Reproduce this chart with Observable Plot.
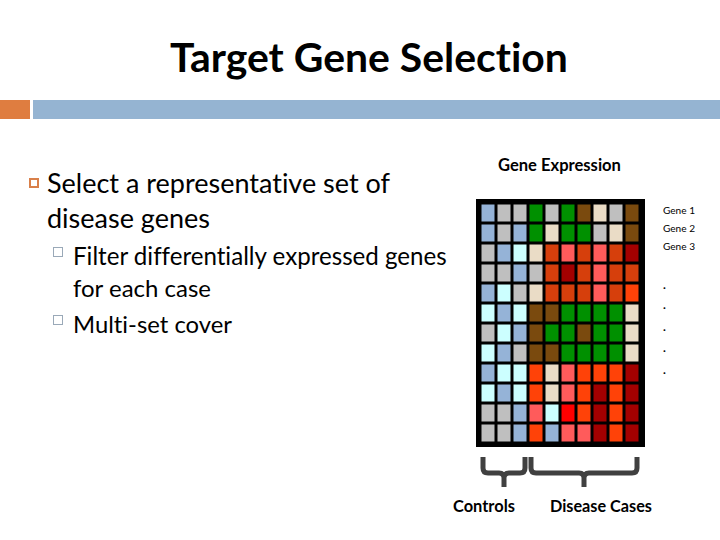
<!DOCTYPE html>
<html><head><meta charset="utf-8">
<script src="https://cdn.jsdelivr.net/npm/d3@7"></script>
<script src="https://cdn.jsdelivr.net/npm/@observablehq/plot@0.6"></script>
<style>
body{margin:0;background:#fff;}
#slide{position:relative;width:720px;height:540px;overflow:hidden;font-family:Lato,"Open Sans",sans-serif;color:#000;font-variant-ligatures:none;font-feature-settings:"liga" 0,"clig" 0;}
#slide svg{position:absolute;left:0;top:0;}
.t{position:absolute;white-space:nowrap;line-height:1;}
.bar{position:absolute;}
</style></head><body><div id="slide"></div>
<script>
// ---- data ----
const genes = ["g1","g2","g3","g4","g5","g6","g7","g8","g9","g10","g11","g12"];
const samples = ["c1","c2","c3","d1","d2","d3","d4","d5","d6","d7"];
// expression level code per gene (row) across samples (columns)
const expression = [
  "BGGgGgNEGN",
  "BGBgEggGEN",
  "GBCERPRPRD",
  "GGBGRDRPRR",
  "BCGERRRPRO",
  "CBCNNggggE",
  "GCBNggNggE",
  "CBGNNggggE",
  "BCCOEPOOOD",
  "CBCOEPODOD",
  "GGBPCXODOD",
  "GGBOBPPDOD"
];
const levels = ["B","G","C","g","E","N","R","P","D","O","X"];
const groupNames = ["Controls","Disease Cases"];
const groupFirst = ["c1","d1"];
const groupLast = ["c3","d7"];
const geneLabels = ["Gene 1","Gene 2","Gene 3"];

const levelColors = ["#95b3d7","#bfbfbf","#ccffff","#009000","#eadcc6","#7a4a0e","#d63f0c","#ff5b5b","#a30000","#ff4208","#ff0000"];

const cells = [];
genes.forEach((g, i) => samples.forEach((s, j) => cells.push({gene: g, sample: s, level: expression[i][j]})));

const slide = document.getElementById("slide");

function braces(...args) {
  const scales = args.find(a => a && typeof a.x === "function");
  const dims = args.find(a => a && typeof a.marginBottom === "number" && typeof a.height === "number");
  const x = scales.x;
  const bw = x(samples[1]) - x(samples[0]);
  const base = dims.height - dims.marginBottom;
  const top = base + 12, hy = base + 28, bot = base + 42, r = 5, ins = 3;
  const g = d3.create("svg:g").attr("fill", "none").attr("stroke", "#404040").attr("stroke-width", 5);
  groupNames.forEach((name, k) => {
    const L = x(groupFirst[k]) + ins, R = x(groupLast[k]) + bw - ins, M = (L + R) / 2;
    g.append("path").attr("d",
      `M${L},${top}V${hy - r}Q${L},${hy} ${L + r},${hy}H${M - r}Q${M},${hy} ${M},${hy + r}V${bot}` +
      `M${M},${hy + r}Q${M},${hy} ${M + r},${hy}H${R - r}Q${R},${hy} ${R},${hy - r}V${top}`);
  });
  return g.node();
}

const chart = Plot.plot({
  width: 720, height: 540,
  marginLeft: 477, marginRight: 77, marginTop: 200, marginBottom: 95,
  x: {domain: samples, axis: null, padding: 0},
  y: {domain: genes, axis: null, padding: 0},
  color: {domain: levels, range: levelColors},
  marks: [
    Plot.frame({fill: "black", stroke: "black", strokeWidth: 3}),
    Plot.cell(cells, {x: "sample", y: "gene", fill: "level", inset: 1.5}),
    braces
  ]
});
slide.appendChild(chart);

// ---- slide decorations ----
function box(style) { const d = document.createElement("div"); d.className = "bar"; Object.assign(d.style, style); slide.appendChild(d); }
box({left: "0px", top: "100px", width: "30px", height: "19px", background: "#df7d40"});
box({left: "33px", top: "100px", width: "687px", height: "19px", background: "#95b4d2"});
box({left: "29px", top: "178px", width: "6px", height: "6px", border: "2px solid #d9804a"});
box({left: "53px", top: "247px", width: "8px", height: "8px", border: "1px solid #9aa9b8"});
box({left: "53px", top: "315px", width: "8px", height: "8px", border: "1px solid #9aa9b8"});

// ---- text (x, baseline, target width) ----
const texts = [
  {text: "Target Gene Selection", x: 170, base: 72, w: 398, bold: true},
  {text: "Select a representative set of", x: 47, base: 193, w: 343},
  {text: "disease genes", x: 47, base: 228, w: 163},
  {text: "Filter differentially expressed genes", x: 73, base: 265, w: 374},
  {text: "for each case", x: 73, base: 297, w: 138},
  {text: "Multi-set cover", x: 73, base: 333, w: 159},
  {text: "Gene Expression", x: 498, base: 171, w: 123, bold: true},
  {text: geneLabels[0], x: 663, base: 214, w: 32},
  {text: geneLabels[1], x: 663, base: 232, w: 32},
  {text: geneLabels[2], x: 663, base: 250, w: 32},
  {text: groupNames[0], x: 453, base: 512, w: 62, bold: true},
  {text: groupNames[1], x: 550, base: 512, w: 102, bold: true}
];
texts.forEach(t => {
  const s = document.createElement("div");
  s.className = "t";
  s.style.fontWeight = t.bold ? "700" : "400";
  s.style.fontSize = "20px";
  s.textContent = t.text;
  const mk = document.createElement("span");
  mk.style.cssText = "display:inline-block;width:0;height:0;";
  s.appendChild(mk);
  s.style.left = t.x + "px"; s.style.top = "0px";
  slide.appendChild(s);
  const w = s.getBoundingClientRect().width;
  const size = 20 * t.w / w;
  s.style.fontSize = size.toFixed(2) + "px";
  const b = mk.getBoundingClientRect().top - slide.getBoundingClientRect().top;
  s.style.top = (t.base - b) + "px";
});
// row ellipsis dots
[290, 310, 332, 353, 375].forEach(b => {
  const s = document.createElement("div");
  s.className = "t"; s.style.fontSize = "12px"; s.style.fontWeight = "700"; s.textContent = ".";
  s.style.left = "663px"; s.style.top = (b - 11) + "px";
  slide.appendChild(s);
});
</script></body></html>
